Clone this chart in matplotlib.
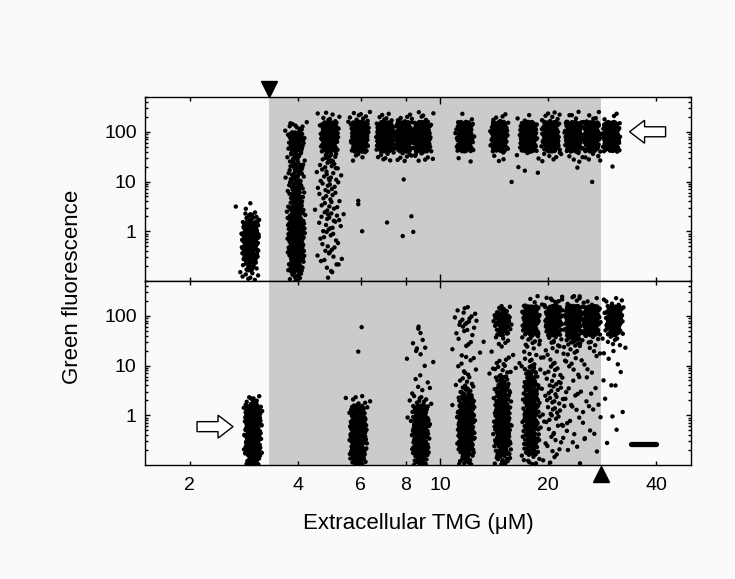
import numpy as np
import matplotlib
matplotlib.use("Agg")
import matplotlib.pyplot as plt
from matplotlib.patches import Polygon
from matplotlib.transforms import IdentityTransform, blended_transform_factory
from matplotlib.ticker import FixedLocator, NullFormatter, LogLocator

plt.rcParams['font.family'] = ['Liberation Sans', 'DejaVu Sans']

# ---------------- data ----------------
# fluorescence histogram bins: log10 edges from -1.0 in steps of 0.2 (18 bins, 0.1 .. 400)
BIN_LO = -1.0
BIN_W = 0.2

# upper panel: cells grown from the uninduced state
upper_tmg = [2.95, 3.96, 4.9, 5.96, 7.0, 7.9, 8.9, 11.7, 14.6, 17.6, 20.3, 23.5, 26.4, 30.0]
upper_counts = [
    [8, 15, 35, 60, 75, 50, 12, 3, 0, 0, 0, 0, 0, 0, 0, 0, 0, 0],
    [12, 22, 35, 50, 60, 55, 38, 25, 20, 20, 18, 18, 18, 25, 40, 10, 0, 0],
    [2, 5, 6, 6, 6, 8, 10, 8, 8, 8, 10, 10, 12, 50, 100, 60, 8, 0],
    [0, 0, 0, 0, 0, 0, 0, 0, 0, 0, 0, 0, 5, 55, 110, 75, 10, 0],
    [0, 0, 0, 0, 0, 0, 0, 0, 0, 0, 0, 0, 6, 55, 100, 55, 6, 0],
    [0, 0, 0, 0, 0, 0, 0, 0, 0, 0, 0, 0, 8, 55, 100, 55, 5, 0],
    [0, 0, 0, 0, 0, 0, 0, 0, 0, 0, 0, 0, 8, 55, 100, 60, 6, 0],
    [0, 0, 0, 0, 0, 0, 0, 0, 0, 0, 0, 0, 2, 45, 75, 45, 2, 0],
    [0, 0, 0, 0, 0, 0, 0, 0, 0, 0, 0, 0, 3, 45, 75, 50, 5, 0],
    [0, 0, 0, 0, 0, 0, 0, 0, 0, 0, 0, 0, 4, 50, 90, 50, 3, 0],
    [0, 0, 0, 0, 0, 0, 0, 0, 0, 0, 0, 0, 6, 45, 90, 55, 8, 0],
    [0, 0, 0, 0, 0, 0, 0, 0, 0, 0, 0, 0, 5, 45, 90, 55, 5, 0],
    [0, 0, 0, 0, 0, 0, 0, 0, 0, 0, 0, 0, 5, 50, 100, 55, 5, 0],
    [0, 0, 0, 0, 0, 0, 0, 0, 0, 0, 0, 0, 0, 40, 75, 50, 3, 0],
]
upper_out_x = [3.7, 3.75, 5.9, 5.9, 6.05, 7.1, 7.9, 8.3, 7.85, 8.4, 15.0, 15.8, 16.5, 17.2, 18.7, 23.9, 24.4, 24.1, 26.5, 30.2]
upper_out_y = [12, 1.85, 4.1, 3.5, 1.0, 1.5, 11, 2.0, 0.8, 0.97, 28, 9.8, 19.5, 16.5, 15, 40, 25, 19, 9.8, 20]

# lower panel: cells grown from the induced state
lower_tmg = [3.0, 5.9, 8.8, 11.8, 14.9, 17.9, 20.7, 23.5, 26.4, 30.5]
lower_counts = [
    [25, 40, 50, 60, 65, 50, 12, 0, 0, 0, 0, 0, 0, 0, 0, 0, 0, 0],
    [25, 40, 50, 60, 55, 32, 8, 0, 0, 0, 0, 0, 0, 0, 0, 0, 0, 0],
    [25, 40, 50, 60, 60, 32, 10, 4, 2, 2, 2, 3, 2, 1, 0, 0, 0, 0],
    [15, 30, 45, 60, 65, 45, 25, 12, 6, 5, 4, 4, 3, 6, 10, 5, 0, 0],
    [15, 30, 40, 50, 50, 40, 30, 22, 15, 10, 5, 3, 5, 22, 40, 15, 0, 0],
    [8, 20, 25, 30, 30, 30, 30, 25, 20, 15, 6, 5, 8, 30, 65, 45, 5, 0],
    [3, 4, 5, 6, 7, 8, 8, 8, 7, 6, 5, 6, 10, 40, 70, 50, 8, 0],
    [1, 2, 2, 2, 3, 3, 3, 3, 3, 3, 4, 6, 14, 50, 75, 50, 8, 0],
    [0, 1, 1, 2, 2, 2, 2, 2, 2, 2, 2, 3, 8, 45, 80, 50, 5, 0],
    [0, 0, 1, 1, 1, 1, 1, 1, 1, 1, 2, 3, 6, 30, 65, 45, 5, 0],
]
lower_out_x = [6.03, 5.9, 8.1, 8.68, 8.8, 8.6, 10.8, 13.2]
lower_out_y = [59, 19, 0.9, 55, 45, 22, 1.6, 30]

# background bar (lower panel) and bistable range
bar_x = [34.0, 40.0]
bar_y = [0.27, 0.27]
bistable_lo = 3.33
bistable_hi = 28.0

x_ticks = [2, 4, 6, 8, 10, 20, 40]
x_ticklabels = ['2', '4', '6', '8', '10', '20', '40']
y_ticks = [1, 10, 100]
y_ticklabels = ['1', '10', '100']

# annotation arrows: (tip x, tip y, direction)
arrow_upper = (33.7, 100.0, -1)
arrow_lower = (2.64, 0.59, +1)

# ---------------- layout helpers (deterministic Halton placement inside each bin) ----------------
JITTER = 0.027  # half width of a column in decades
_counter = [1]


def radical_inverse(n, base):
    f, r = 1.0, 0.0
    while n > 0:
        f /= base
        r += f * (n % base)
        n //= base
    return r


def column_points(xc, counts):
    xs, ys = [], []
    for b, c in enumerate(counts):
        lo = BIN_LO + b * BIN_W
        # sparse bins are spread a little wider, as in the picture
        width = JITTER * (1.6 if c < 12 else 1.0)
        for _ in range(c):
            n = _counter[0]
            _counter[0] += 1
            u = radical_inverse(n, 2)
            v = radical_inverse(n, 3)
            t = np.sqrt(2 * u) - 1 if u < 0.5 else 1 - np.sqrt(2 * (1 - u))
            xs.append(xc * 10 ** (t * width))
            ys.append(10 ** (lo + v * BIN_W))
    return xs, ys


W, H = 735, 579
fig = plt.figure(figsize=(W / 100, H / 100), dpi=100)
fig.patch.set_facecolor('#fafafa')

left, right = 145 / W, 691 / W
top_u, mid, bot = 1 - 97 / H, 1 - 281 / H, 1 - 465 / H
ax_u = fig.add_axes([left, mid, right - left, top_u - mid])
ax_l = fig.add_axes([left, bot, right - left, mid - bot])

for ax, tmg, cnts, ox, oy in [(ax_u, upper_tmg, upper_counts, upper_out_x, upper_out_y),
                              (ax_l, lower_tmg, lower_counts, lower_out_x, lower_out_y)]:
    ax.set_facecolor('#fafafa')
    ax.set_xscale('log')
    ax.set_yscale('log')
    ax.set_xlim(1.5, 50)
    ax.set_ylim(0.1, 500)
    ax.axvspan(bistable_lo, bistable_hi, color='#cbcbcb', lw=0, zorder=0)
    allx, ally = [], []
    for xc, c in zip(tmg, cnts):
        xs, ys = column_points(xc, c)
        allx += xs
        ally += ys
    allx += ox
    ally += oy
    ax.scatter(allx, ally, s=10, c='black', edgecolors='none', zorder=3)

    ax.xaxis.set_major_locator(FixedLocator([10]))
    ax.xaxis.set_minor_locator(FixedLocator([2, 4, 6, 8, 20, 40]))
    ax.xaxis.set_major_formatter(NullFormatter())
    ax.xaxis.set_minor_formatter(NullFormatter())
    ax.yaxis.set_major_locator(FixedLocator(y_ticks))
    ax.yaxis.set_minor_locator(LogLocator(base=10, subs=np.arange(2, 10)))
    ax.set_yticklabels(y_ticklabels)
    ax.yaxis.set_minor_formatter(NullFormatter())
    ax.tick_params(axis='both', which='both', direction='in', top=True, right=True,
                   width=1.0, labelsize=14)
    ax.tick_params(axis='x', which='major', length=5)
    ax.tick_params(axis='x', which='minor', length=3.2)
    ax.tick_params(axis='y', which='major', length=3.5, pad=6)
    ax.tick_params(axis='y', which='minor', length=2)
    for sp in ax.spines.values():
        sp.set_linewidth(1.0)

# bottom labels on the lower panel
ax_l.set_xticks(x_ticks, minor=False)
ax_l.xaxis.set_minor_locator(FixedLocator([]))
ax_l.set_xticklabels(x_ticklabels)
ax_l.tick_params(axis='x', which='major', length=3.2, pad=9, direction='in', top=True)
for t, v in zip(ax_l.xaxis.get_major_ticks(), x_ticks):
    if v == 10:
        t.tick1line.set_markersize(5)
        t.tick2line.set_markersize(5)

ax_l.plot(bar_x, bar_y, color='black', lw=3.8, solid_capstyle='round', zorder=4)

# threshold triangles
tr_u = blended_transform_factory(ax_u.transData, ax_u.transAxes)
ax_u.plot([bistable_lo], [1.045], marker='v', ms=11, color='black', transform=tr_u, clip_on=False)
tr_l = blended_transform_factory(ax_l.transData, ax_l.transAxes)
ax_l.plot([bistable_hi], [-0.05], marker='^', ms=11, color='black', transform=tr_l, clip_on=False)


def block_arrow(ax, x, y, d):
    tx, ty = ax.transData.transform((x, y))
    L, HL, HW, TW = 36, 15, 23, 10
    pts = [(tx, ty), (tx - d * HL, ty + HW / 2), (tx - d * HL, ty + TW / 2),
           (tx - d * L, ty + TW / 2), (tx - d * L, ty - TW / 2),
           (tx - d * HL, ty - TW / 2), (tx - d * HL, ty - HW / 2)]
    fig.add_artist(Polygon(pts, closed=True, fc='white', ec='black', lw=1.0,
                           transform=IdentityTransform(), zorder=5))


block_arrow(ax_u, *arrow_upper)
block_arrow(ax_l, *arrow_lower)

fig.text(73 / W, 1 - 287 / H, 'Green fluorescence', rotation=90, ha='center', va='center', fontsize=16)
fig.text(418 / W, 1 - 523 / H, 'Extracellular TMG (\u03bcM)', ha='center', va='center', fontsize=16)

fig.savefig('out.png', dpi=100, facecolor=fig.get_facecolor())
